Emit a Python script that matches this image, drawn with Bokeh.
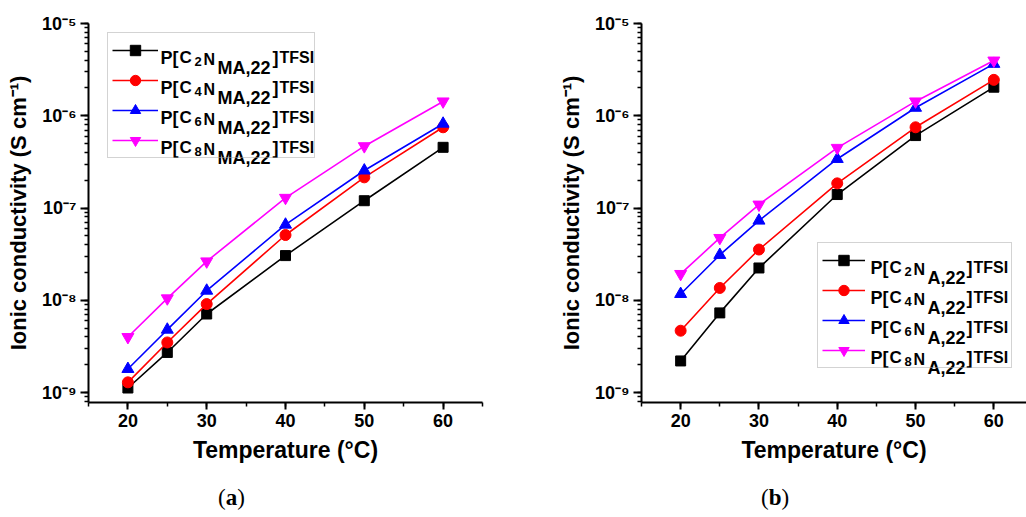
from bokeh.plotting import figure
from bokeh.models import (Range1d, SingleIntervalTicker, LogTicker, CustomJSTickFormatter,
                          Legend, LegendItem, Label, Div)
from bokeh.layouts import row, column
from bokeh.embed import file_html
from bokeh.resources import INLINE

# ---------------- data ----------------
temps = [20, 25, 30, 40, 50, 60]

a_c2 = [1.12e-9, 2.72e-9, 7.1e-9, 3.05e-8, 1.2e-7, 4.55e-7]
a_c4 = [1.29e-9, 3.49e-9, 9.1e-9, 5.1e-8, 2.15e-7, 7.5e-7]
a_c6 = [1.8e-9, 4.8e-9, 1.27e-8, 6.6e-8, 2.55e-7, 8.2e-7]
a_c8 = [4.0e-9, 1.05e-8, 2.64e-8, 1.29e-7, 4.68e-7, 1.43e-6]

b_c2 = [2.2e-9, 7.3e-9, 2.24e-8, 1.4e-7, 6.1e-7, 2.04e-6]
b_c4 = [4.68e-9, 1.36e-8, 3.55e-8, 1.85e-7, 7.5e-7, 2.45e-6]
b_c6 = [1.17e-8, 3.1e-8, 7.3e-8, 3.4e-7, 1.22e-6, 3.65e-6]
b_c8 = [1.93e-8, 4.74e-8, 1.09e-7, 4.49e-7, 1.43e-6, 3.97e-6]

carbons = ["2", "4", "6", "8"]
suffix_a = "MA,22"
suffix_b = "A,22"
colors = ["#000000", "#ff0000", "#0000ff", "#ff00ff"]
markers = ["square", "circle", "triangle", "inverted_triangle"]
marker_sizes = [10, 11, 12, 12]

x_title = "Temperature (°C)"
y_title = "Ionic conductivity (S cm⁻¹)"
captions = ["a", "b"]

FONT = "Liberation Sans"

sup_fmt = CustomJSTickFormatter(code="""
const sup = {'-':'\u207b','0':'\u2070','1':'\u00b9','2':'\u00b2','3':'\u00b3','4':'\u2074',
             '5':'\u2075','6':'\u2076','7':'\u2077','8':'\u2078','9':'\u2079'};
const e = Math.round(Math.log10(tick));
return '10' + String(e).split('').map(c => sup[c]).join('');
""")


def make_panel(series, suffix, frame_w, border_l, border_r, x_end,
               leg_loc, leg_glyph_w, leg_label_w, leg_spacing, text_x, piece_offsets):
    frame_h = 379
    p = figure(frame_width=frame_w, frame_height=frame_h,
               min_border_left=border_l, min_border_right=border_r,
               min_border_top=23, min_border_bottom=82,
               x_range=Range1d(15, x_end), y_range=Range1d(7.8e-10, 1.0e-5),
               y_axis_type="log", output_backend="svg", toolbar_location=None)
    p.outline_line_color = None
    p.grid.visible = False
    p.background_fill_color = "white"
    p.border_fill_color = "white"

    p.xaxis.ticker = SingleIntervalTicker(interval=10, num_minor_ticks=2)
    p.yaxis.ticker = LogTicker(num_minor_ticks=10)
    p.yaxis.formatter = sup_fmt
    for ax in (p.xaxis, p.yaxis):
        ax.axis_line_width = 2
        ax.axis_line_color = "black"
        ax.major_tick_line_width = 2
        ax.minor_tick_line_width = 1.5
        ax.major_tick_line_color = "black"
        ax.minor_tick_line_color = "black"
        ax.major_tick_in = 0
        ax.minor_tick_in = 0
        ax.major_label_text_font = FONT
        ax.major_label_text_font_style = "bold"
        ax.major_label_text_font_size = "18px"
        ax.major_label_text_color = "black"
        ax.axis_label_text_font = FONT
        ax.axis_label_text_font_style = "bold"
        ax.axis_label_text_color = "black"
    p.xaxis.major_tick_out = 7
    p.xaxis.minor_tick_out = 4
    p.yaxis.major_tick_out = 8
    p.yaxis.minor_tick_out = 4
    p.xaxis.major_label_standoff = 4
    p.yaxis.major_label_standoff = 4
    p.xaxis.axis_label = x_title
    p.yaxis.axis_label = y_title
    p.xaxis.axis_label_text_font_size = "23px"
    p.yaxis.axis_label_text_font_size = "22px"
    p.xaxis.axis_label_standoff = 7
    p.yaxis.axis_label_standoff = 8

    items = []
    for vals, col, mk, ms in zip(series, colors, markers, marker_sizes):
        l = p.line(temps, vals, line_color=col, line_width=1.6)
        s = p.scatter(temps, vals, marker=mk, size=ms, fill_color=col, line_color=col)
        items.append(LegendItem(label=" ", renderers=[l, s]))

    pad = 4
    gh = 26
    leg = Legend(items=items, location=leg_loc, padding=pad, margin=0,
                 spacing=leg_spacing, glyph_width=leg_glyph_w, glyph_height=gh,
                 label_width=leg_label_w, label_height=gh, label_standoff=5,
                 border_line_color="#a8a8a8", border_line_width=1,
                 background_fill_alpha=0.0, label_text_font_size="1px")
    p.add_layout(leg, "center")

    leg_h = 2 * pad + 4 * gh + 3 * leg_spacing
    top_up = leg_loc[1] + leg_h
    for k, c in enumerate(carbons):
        cy = top_up - pad - gh / 2 - k * (gh + leg_spacing)
        base = cy - 6.3
        pieces = [("P[", 18, 0.0), ("C", 17, 0.0), (c, 13, -4.0), ("N", 16, -1.5),
                  (suffix, 18, -10.0), ("]", 18, 0.0), ("TFSI", 16, 0.0)]
        for (txt, fs, dy), dx in zip(pieces, piece_offsets):
            p.add_layout(Label(x=text_x + dx, y=base + dy, x_units="screen", y_units="screen",
                               text=txt, text_font=FONT, text_font_style="bold",
                               text_font_size=f"{fs}px", text_color="black",
                               text_baseline="alphabetic", text_align="left"))
    return p


pa = make_panel([a_c2, a_c4, a_c6, a_c8], suffix_a, frame_w=394, border_l=88, border_r=60,
                x_end=65, leg_loc=(19, 244), leg_glyph_w=46, leg_label_w=147,
                leg_spacing=4, text_x=72,
                piece_offsets=[0, 19, 34, 43, 57, 112, 119])
pb = make_panel([b_c2, b_c4, b_c6, b_c8], suffix_b, frame_w=385, border_l=99, border_r=0,
                x_end=64.17, leg_loc=(176, 34), leg_glyph_w=43, leg_label_w=137,
                leg_spacing=4, text_x=229,
                piece_offsets=[0, 19, 34, 43, 57, 96, 103])


def caption(letter, width, pad_left):
    html = (f'<div style="padding-left:{pad_left}px; position:relative; top:-4px; '
            f'font-family:\'Liberation Serif\'; font-size:23px; line-height:26px; color:black; '
            f'white-space:nowrap;">(<b>{letter}</b>)</div>')
    return Div(text=html, width=width, height=32)


cap_a = caption(captions[0], 466, 213)
cap_b = caption(captions[1], 560, 280)

layout = column(row(pa, pb), row(cap_a, cap_b))
open("out.html", "w").write(file_html(layout, INLINE))
